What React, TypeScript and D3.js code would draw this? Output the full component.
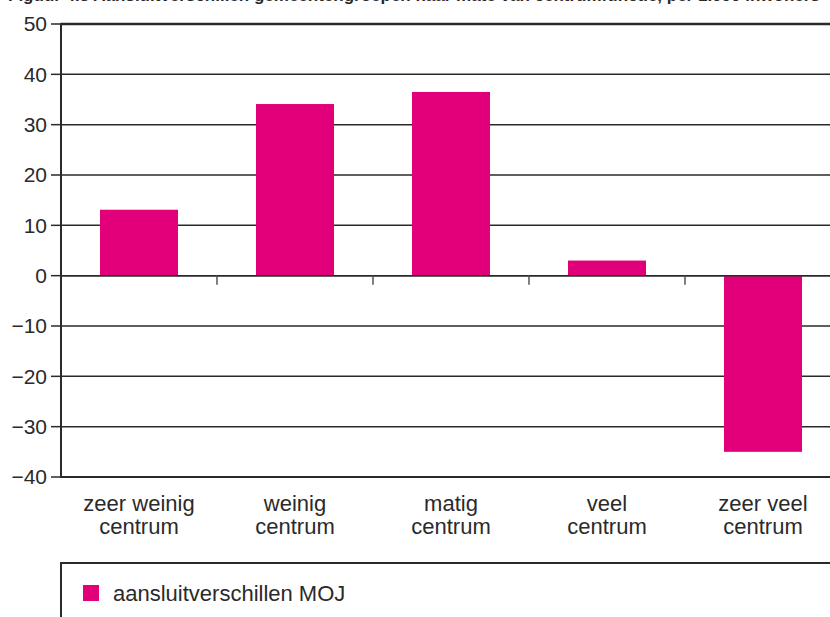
import React from "react";
import * as d3 from "d3";

const categories: string[][] = [
  ["zeer weinig", "centrum"],
  ["weinig", "centrum"],
  ["matig", "centrum"],
  ["veel", "centrum"],
  ["zeer veel", "centrum"],
];
const values: number[] = [13.1, 34.1, 36.5, 3.0, -35.0];
const yTicks: number[] = [50, 40, 30, 20, 10, 0, -10, -20, -30, -40];
const seriesName = "aansluitverschillen MOJ";
const title = "Figuur 4.3 Aansluitverschillen gemeentengroepen naar mate van centrumfunctie, per 1.000 inwoners";

const W = 830;
const H = 617;
const FONT = "'Liberation Sans', Arial, Helvetica, sans-serif";
const PINK = "#E2007A";
const INK = "#2a2a2a";

export default function App() {
  const x = d3
    .scaleBand<number>()
    .domain(d3.range(categories.length))
    .range([61, 841])
    .paddingInner(0.5)
    .paddingOuter(0.25);
  const y = d3.scaleLinear().domain([-40, 50]).range([477, 24]);
  const step = x.step();
  const x0 = 61;

  return (
    <svg width={W} height={H} style={{ position: "absolute", left: 0, top: 0, background: "#fff" }}>
      <rect x={0} y={0} width={W} height={H} fill="#fff" />
      <text x={8} y={1} fontFamily={FONT} fontWeight="bold" fontSize={17} fill={INK}>
        {title}
      </text>
      {/* grid lines */}
      {yTicks.map((t) => (
        <line
          key={t}
          x1={x0}
          x2={W}
          y1={y(t)}
          y2={y(t)}
          stroke={INK}
          strokeWidth={t === 50 ? 2.5 : t === -40 ? 2.2 : 1.5}
        />
      ))}
      {/* bars */}
      {values.map((v, i) => (
        <rect
          key={i}
          x={x(i)!}
          width={x.bandwidth()}
          y={y(Math.max(0, v))}
          height={Math.abs(y(v) - y(0))}
          fill={PINK}
        />
      ))}
      {/* zero line */}
      <line x1={x0} x2={W} y1={y(0)} y2={y(0)} stroke={INK} strokeWidth={1.5} />
      {/* category ticks on zero line */}
      {d3.range(1, categories.length).map((i) => (
        <line
          key={i}
          x1={x0 + i * step}
          x2={x0 + i * step}
          y1={y(0)}
          y2={y(0) + 9}
          stroke="#555"
          strokeWidth={1.5}
        />
      ))}
      {/* y axis */}
      <line x1={x0} x2={x0} y1={y(50) - 1} y2={y(-40) + 1} stroke={INK} strokeWidth={2} />
      {yTicks.map((t) => (
        <g key={t} transform={`translate(0,${y(t)})`}>
          <line x1={51} x2={x0} stroke={INK} strokeWidth={1.5} />
          <text
            x={47}
            dy="0.35em"
            textAnchor="end"
            fontFamily={FONT}
            fontSize={21}
            fill={INK}
          >
            {t < 0 ? "\u2212" + Math.abs(t) : String(t)}
          </text>
        </g>
      ))}
      {/* x labels */}
      {categories.map((lines, i) => (
        <text
          key={i}
          x={x(i)! + x.bandwidth() / 2}
          y={511}
          textAnchor="middle"
          fontFamily={FONT}
          fontSize={22}
          fill={INK}
        >
          {lines.map((l, j) => (
            <tspan key={j} x={x(i)! + x.bandwidth() / 2} dy={j === 0 ? 0 : 23}>
              {l}
            </tspan>
          ))}
        </text>
      ))}
      {/* legend */}
      <rect x={61} y={563} width={W} height={H} fill="none" stroke={INK} strokeWidth={2} />
      <rect x={83} y={585} width={16} height={16} fill={PINK} />
      <text x={113} y={593} dy="0.35em" fontFamily={FONT} fontSize={22} fill={INK}>
        {seriesName}
      </text>
    </svg>
  );
}
